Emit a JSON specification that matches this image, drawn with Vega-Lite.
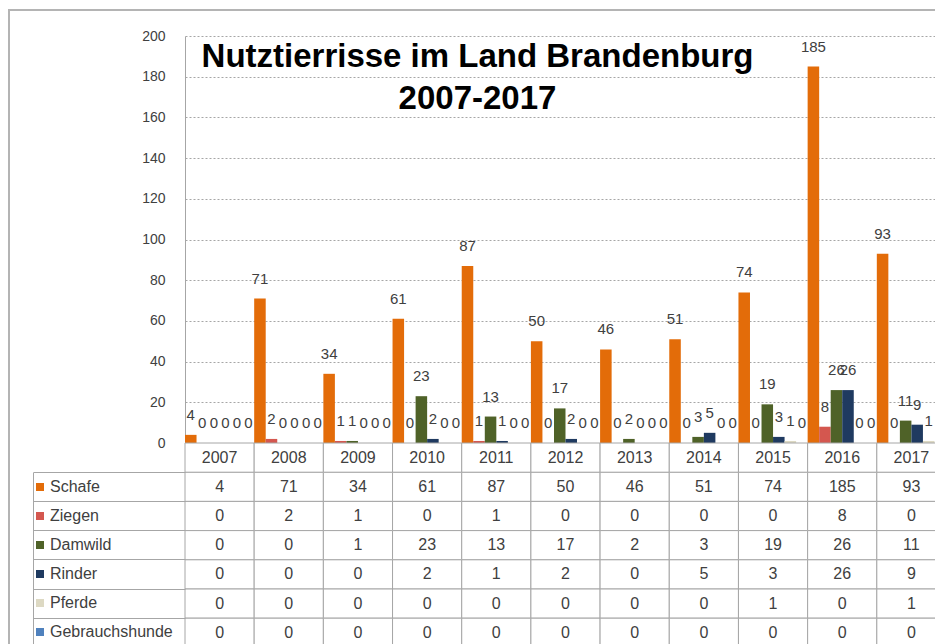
{
  "$schema": "https://vega.github.io/schema/vega-lite/v6.json",
  "padding": {"left": 9, "top": 10, "right": 0, "bottom": 0},
  "background": "white",
  "width": 937,
  "height": 640,
  "config": {"view": {"stroke": "#b4b4b4", "strokeWidth": 2}, "font": "Liberation Sans"},
  "datasets": {
    "rows": [
      {"Jahr": "2007", "Tierart": "Schafe", "Anzahl": 4},
      {"Jahr": "2007", "Tierart": "Ziegen", "Anzahl": 0},
      {"Jahr": "2007", "Tierart": "Damwild", "Anzahl": 0},
      {"Jahr": "2007", "Tierart": "Rinder", "Anzahl": 0},
      {"Jahr": "2007", "Tierart": "Pferde", "Anzahl": 0},
      {"Jahr": "2007", "Tierart": "Gebrauchshunde", "Anzahl": 0},
      {"Jahr": "2008", "Tierart": "Schafe", "Anzahl": 71},
      {"Jahr": "2008", "Tierart": "Ziegen", "Anzahl": 2},
      {"Jahr": "2008", "Tierart": "Damwild", "Anzahl": 0},
      {"Jahr": "2008", "Tierart": "Rinder", "Anzahl": 0},
      {"Jahr": "2008", "Tierart": "Pferde", "Anzahl": 0},
      {"Jahr": "2008", "Tierart": "Gebrauchshunde", "Anzahl": 0},
      {"Jahr": "2009", "Tierart": "Schafe", "Anzahl": 34},
      {"Jahr": "2009", "Tierart": "Ziegen", "Anzahl": 1},
      {"Jahr": "2009", "Tierart": "Damwild", "Anzahl": 1},
      {"Jahr": "2009", "Tierart": "Rinder", "Anzahl": 0},
      {"Jahr": "2009", "Tierart": "Pferde", "Anzahl": 0},
      {"Jahr": "2009", "Tierart": "Gebrauchshunde", "Anzahl": 0},
      {"Jahr": "2010", "Tierart": "Schafe", "Anzahl": 61},
      {"Jahr": "2010", "Tierart": "Ziegen", "Anzahl": 0},
      {"Jahr": "2010", "Tierart": "Damwild", "Anzahl": 23},
      {"Jahr": "2010", "Tierart": "Rinder", "Anzahl": 2},
      {"Jahr": "2010", "Tierart": "Pferde", "Anzahl": 0},
      {"Jahr": "2010", "Tierart": "Gebrauchshunde", "Anzahl": 0},
      {"Jahr": "2011", "Tierart": "Schafe", "Anzahl": 87},
      {"Jahr": "2011", "Tierart": "Ziegen", "Anzahl": 1},
      {"Jahr": "2011", "Tierart": "Damwild", "Anzahl": 13},
      {"Jahr": "2011", "Tierart": "Rinder", "Anzahl": 1},
      {"Jahr": "2011", "Tierart": "Pferde", "Anzahl": 0},
      {"Jahr": "2011", "Tierart": "Gebrauchshunde", "Anzahl": 0},
      {"Jahr": "2012", "Tierart": "Schafe", "Anzahl": 50},
      {"Jahr": "2012", "Tierart": "Ziegen", "Anzahl": 0},
      {"Jahr": "2012", "Tierart": "Damwild", "Anzahl": 17},
      {"Jahr": "2012", "Tierart": "Rinder", "Anzahl": 2},
      {"Jahr": "2012", "Tierart": "Pferde", "Anzahl": 0},
      {"Jahr": "2012", "Tierart": "Gebrauchshunde", "Anzahl": 0},
      {"Jahr": "2013", "Tierart": "Schafe", "Anzahl": 46},
      {"Jahr": "2013", "Tierart": "Ziegen", "Anzahl": 0},
      {"Jahr": "2013", "Tierart": "Damwild", "Anzahl": 2},
      {"Jahr": "2013", "Tierart": "Rinder", "Anzahl": 0},
      {"Jahr": "2013", "Tierart": "Pferde", "Anzahl": 0},
      {"Jahr": "2013", "Tierart": "Gebrauchshunde", "Anzahl": 0},
      {"Jahr": "2014", "Tierart": "Schafe", "Anzahl": 51},
      {"Jahr": "2014", "Tierart": "Ziegen", "Anzahl": 0},
      {"Jahr": "2014", "Tierart": "Damwild", "Anzahl": 3},
      {"Jahr": "2014", "Tierart": "Rinder", "Anzahl": 5},
      {"Jahr": "2014", "Tierart": "Pferde", "Anzahl": 0},
      {"Jahr": "2014", "Tierart": "Gebrauchshunde", "Anzahl": 0},
      {"Jahr": "2015", "Tierart": "Schafe", "Anzahl": 74},
      {"Jahr": "2015", "Tierart": "Ziegen", "Anzahl": 0},
      {"Jahr": "2015", "Tierart": "Damwild", "Anzahl": 19},
      {"Jahr": "2015", "Tierart": "Rinder", "Anzahl": 3},
      {"Jahr": "2015", "Tierart": "Pferde", "Anzahl": 1},
      {"Jahr": "2015", "Tierart": "Gebrauchshunde", "Anzahl": 0},
      {"Jahr": "2016", "Tierart": "Schafe", "Anzahl": 185},
      {"Jahr": "2016", "Tierart": "Ziegen", "Anzahl": 8},
      {"Jahr": "2016", "Tierart": "Damwild", "Anzahl": 26},
      {"Jahr": "2016", "Tierart": "Rinder", "Anzahl": 26},
      {"Jahr": "2016", "Tierart": "Pferde", "Anzahl": 0},
      {"Jahr": "2016", "Tierart": "Gebrauchshunde", "Anzahl": 0},
      {"Jahr": "2017", "Tierart": "Schafe", "Anzahl": 93},
      {"Jahr": "2017", "Tierart": "Ziegen", "Anzahl": 0},
      {"Jahr": "2017", "Tierart": "Damwild", "Anzahl": 11},
      {"Jahr": "2017", "Tierart": "Rinder", "Anzahl": 9},
      {"Jahr": "2017", "Tierart": "Pferde", "Anzahl": 1},
      {"Jahr": "2017", "Tierart": "Gebrauchshunde", "Anzahl": 0}
    ],
    "years": [
      {"Jahr": "2007"}, {"Jahr": "2008"}, {"Jahr": "2009"}, {"Jahr": "2010"},
      {"Jahr": "2011"}, {"Jahr": "2012"}, {"Jahr": "2013"}, {"Jahr": "2014"},
      {"Jahr": "2015"}, {"Jahr": "2016"}, {"Jahr": "2017"}
    ]
  },
  "title": {
    "text": ["Nutztierrisse im Land Brandenburg", "2007-2017"],
    "fontSize": 33,
    "fontWeight": "bold",
    "color": "black",
    "anchor": "middle",
    "frame": "group",
    "offset": 0,
    "dx": 0,
    "dy": 106,
    "lineHeight": 42
  },
  "encoding": {
    "x": {
      "field": "Jahr", "type": "nominal", "sort": null,
      "scale": {"domain": ["2007","2008","2009","2010","2011","2012","2013","2014","2015","2016","2017"], "range": [176, 937], "paddingInner": 0, "paddingOuter": 0},
      "axis": null
    }
  },
  "layer": [
    {
      "data": {"name": "rows"},
      "mark": {"type": "bar"},
      "encoding": {
        "xOffset": {
          "field": "Tierart", "type": "nominal", "sort": null,
          "scale": {"domain": ["Schafe","Ziegen","Damwild","Rinder","Pferde","Gebrauchshunde"], "paddingInner": 0, "paddingOuter": 0}
        },
        "y": {
          "field": "Anzahl", "type": "quantitative",
          "scale": {"domain": [0, 200], "range": [433, 26]},
          "axis": {
            "orient": "left",
            "offset": -176,
            "values": [0, 20, 40, 60, 80, 100, 120, 140, 160, 180, 200],
            "title": null,
            "grid": true,
            "gridColor": "#a6a6a6",
            "gridDash": [2, 2],
            "domain": true,
            "domainColor": "#a6a6a6",
            "ticks": false,
            "labelPadding": 20,
            "labelFontSize": 14,
            "labelColor": "#404040"
          }
        },
        "color": {
          "field": "Tierart", "type": "nominal", "sort": null,
          "scale": {
            "domain": ["Schafe","Ziegen","Damwild","Rinder","Pferde","Gebrauchshunde"],
            "range": ["#E36C09","#D4574F","#4F6228","#1F3A60","#DDD9C3","#4F81BD"]
          },
          "legend": {
            "orient": "none",
            "legendX": 23,
            "legendY": 469,
            "title": null,
            "symbolType": "square",
            "symbolSize": 64,
            "symbolStrokeWidth": 0,
            "labelFontSize": 16,
            "labelColor": "#404040",
            "labelBaseline": "middle",
            "rowPadding": 13,
            "labelOffset": 2,
            "padding": 0
          }
        }
      }
    },
    {
      "data": {"name": "rows"},
      "mark": {"type": "text", "dy": -20, "fontSize": 15, "color": "#404040", "baseline": "middle"},
      "encoding": {
        "xOffset": {
          "field": "Tierart", "type": "nominal", "sort": null,
          "scale": {"domain": ["Schafe","Ziegen","Damwild","Rinder","Pferde","Gebrauchshunde"], "paddingInner": 0, "paddingOuter": 0}
        },
        "y": {
          "field": "Anzahl", "type": "quantitative",
          "scale": {"domain": [0, 200], "range": [433, 26]},
          "axis": null
        },
        "text": {"field": "Anzahl", "type": "quantitative"}
      }
    },
    {
      "data": {"name": "rows"},
      "mark": {"type": "rect", "fill": "white", "stroke": "#a6a6a6", "strokeWidth": 1},
      "encoding": {
        "y": {
          "field": "Tierart", "type": "nominal", "sort": null,
          "scale": {"domain": ["Jahr","Schafe","Ziegen","Damwild","Rinder","Pferde","Gebrauchshunde"], "range": [433, 637.4], "paddingInner": 0, "paddingOuter": 0},
          "axis": {"orient": "left", "offset": -176, "title": null, "labels": false, "domain": false, "ticks": true, "tickSize": 152, "tickColor": "#a6a6a6", "bandPosition": 1, "grid": false}
        }
      }
    },
    {
      "data": {"name": "years"},
      "mark": {"type": "rect", "fill": "white", "stroke": "#a6a6a6", "strokeWidth": 1},
      "encoding": {
        "y": {
          "datum": "Jahr", "type": "nominal",
          "scale": {"domain": ["Jahr","Schafe","Ziegen","Damwild","Rinder","Pferde","Gebrauchshunde"], "range": [433, 637.4], "paddingInner": 0, "paddingOuter": 0},
          "axis": null
        }
      }
    },
    {
      "data": {"name": "rows"},
      "mark": {"type": "text", "fontSize": 16, "color": "#404040"},
      "encoding": {
        "y": {
          "field": "Tierart", "type": "nominal", "sort": null,
          "scale": {"domain": ["Jahr","Schafe","Ziegen","Damwild","Rinder","Pferde","Gebrauchshunde"], "range": [433, 637.4], "paddingInner": 0, "paddingOuter": 0},
          "axis": {"orient": "left", "offset": -24, "title": null, "labels": false, "ticks": false, "grid": false, "domain": true, "domainColor": "#a6a6a6", "domainDash": [0, 29.2, 300]}
        },
        "text": {"field": "Anzahl", "type": "quantitative"}
      }
    },
    {
      "data": {"name": "years"},
      "mark": {"type": "text", "fontSize": 16, "color": "#404040"},
      "encoding": {
        "y": {
          "datum": "Jahr", "type": "nominal",
          "scale": {"domain": ["Jahr","Schafe","Ziegen","Damwild","Rinder","Pferde","Gebrauchshunde"], "range": [433, 637.4], "paddingInner": 0, "paddingOuter": 0},
          "axis": null
        },
        "text": {"field": "Jahr", "type": "nominal"}
      }
    }
  ],
  "resolve": {"scale": {"y": "independent"}, "axis": {"y": "independent"}}
}
